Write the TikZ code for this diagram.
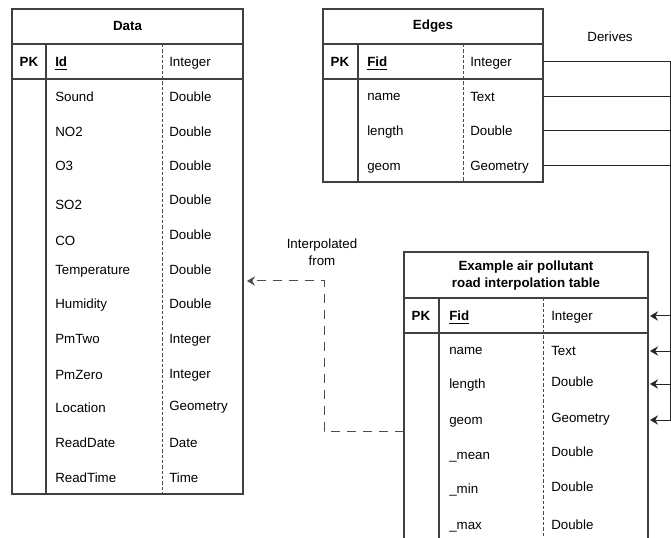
\documentclass[tikz,border=0pt]{standalone}
\usepackage{fontspec}
\setmainfont{Liberation Sans}
\usetikzlibrary{arrows.meta}

\tikzset{
  frame/.style={draw=black!75, line width=0.9pt},
  divider/.style={draw=black!70, line width=0.7pt, dash pattern=on 2.5pt off 1.5pt},
  txt/.style={inner sep=0pt, text height=0.72em, text depth=0pt, font=\fontsize{10}{13}\selectfont},
  fld/.style={txt, anchor=west},
  pk/.style={txt, font=\fontsize{10}{13}\selectfont\bfseries},
  ttl/.style={inner sep=0pt, align=center, font=\fontsize{10}{12.75}\selectfont\bfseries},
  lbl/.style={inner sep=0pt, align=center, font=\fontsize{10}{13}\selectfont},
  derive/.style={draw=black!85, line width=0.75pt, -{Stealth[length=6pt,width=7pt,inset=2pt]}},
  interp/.style={draw=black!70, line width=0.75pt, dash pattern=on 7pt off 5pt, -{Stealth[length=6pt,width=7pt,inset=2pt]}}
}

\begin{document}
\begin{tikzpicture}[x=0.75pt, y=-0.75pt]
	%%%%% START %%%%%
	\useasboundingbox (0,0) rectangle (671,538);
	\clip (0,0) rectangle (671,538);
	
	%% Data
	\draw[frame] (12,9) rectangle (243,494);
	\draw[frame] (12,44) -- (243,44);
	\draw[frame] (12,79) -- (243,79);
	\draw[frame] (46,44) -- (46,494);
	\draw[divider] (162,44) -- (162,494);
	\coordinate (d-east) at (243,0);
	
	\node[ttl] (d-title) at (127.5,26) {Data};
	\node[pk] (d-pk) at (29,62) {PK};
	\node[fld] (d-id) at (55,62) {\textbf{\underline{Id}}};
	\node[fld] (d-id-t) at (169,62) {Integer};
	\node[fld] (d-sound) at (55,97) {Sound};
	\node[fld] (d-sound-t) at (169,97) {Double};
	\node[fld] (d-no2) at (55,132) {NO2};
	\node[fld] (d-no2-t) at (169,132) {Double};
	\node[fld] (d-o3) at (55,166) {O3};
	\node[fld] (d-o3-t) at (169,166) {Double};
	\node[fld] (d-so2) at (55,205) {SO2};
	\node[fld] (d-so2-t) at (169,200) {Double};
	\node[fld] (d-co) at (55,241) {CO};
	\node[fld] (d-co-t) at (169,235) {Double};
	\node[fld] (d-temp) at (55,270) {Temperature};
	\node[fld] (d-temp-t) at (169,270) {Double};
	\node[fld] (d-hum) at (55,304) {Humidity};
	\node[fld] (d-hum-t) at (169,304) {Double};
	\node[fld] (d-pm2) at (55,339) {PmTwo};
	\node[fld] (d-pm2-t) at (169,339) {Integer};
	\node[fld] (d-pm0) at (55,375) {PmZero};
	\node[fld] (d-pm0-t) at (169,374) {Integer};
	\node[fld] (d-loc) at (55,408) {Location};
	\node[fld] (d-loc-t) at (169,406) {Geometry};
	\node[fld] (d-date) at (55,443) {ReadDate};
	\node[fld] (d-date-t) at (169,443) {Date};
	\node[fld] (d-time) at (55,478) {ReadTime};
	\node[fld] (d-time-t) at (169,478) {Time};
	
	%% Edges
	\draw[frame] (323,9) rectangle (543,182);
	\draw[frame] (323,44) -- (543,44);
	\draw[frame] (323,79) -- (543,79);
	\draw[frame] (358,44) -- (358,182);
	\draw[divider] (463,44) -- (463,182);
	\coordinate (e-east) at (543,0);
	
	\node[ttl] (e-title) at (433,26) {Edges};
	\node[pk] (e-pk) at (340,62) {PK};
	\node[fld] (e-fid) at (367,62) {\textbf{\underline{Fid}}};
	\node[fld] (e-fid-t) at (470,62) {Integer};
	\node[fld] (e-name) at (367,96) {name};
	\node[fld] (e-name-t) at (470,97) {Text};
	\node[fld] (e-len) at (367,131) {length};
	\node[fld] (e-len-t) at (470,131) {Double};
	\node[fld] (e-geom) at (367,166) {geom};
	\node[fld] (e-geom-t) at (470,166) {Geometry};
	
	%% Road interpolation table
	\draw[frame] (404,252) rectangle (648,560);
	\draw[frame] (404,298) -- (648,298);
	\draw[frame] (404,333) -- (648,333);
	\draw[frame] (439,298) -- (439,560);
	\draw[divider] (543,298) -- (543,560);
	\coordinate (r-east) at (650,0);
	
	\node[ttl] (r-title) at (526,275.5) {Example air pollutant\\road interpolation table};
	\node[pk] (r-pk) at (421,316) {PK};
	\node[fld] (r-fid) at (449,316) {\textbf{\underline{Fid}}};
	\node[fld] (r-fid-t) at (551,316) {Integer};
	\node[fld] (r-name) at (449,350) {name};
	\node[fld] (r-name-t) at (551,351) {Text};
	\node[fld] (r-len) at (449,384) {length};
	\node[fld] (r-len-t) at (551,382) {Double};
	\node[fld] (r-geom) at (449,420) {geom};
	\node[fld] (r-geom-t) at (551,418) {Geometry};
	\node[fld] (r-mean) at (449,455) {\_mean};
	\node[fld] (r-mean-t) at (551,452) {Double};
	\node[fld] (r-min) at (449,489) {\_min};
	\node[fld] (r-min-t) at (551,487) {Double};
	\node[fld] (r-max) at (449,525) {\_max};
	\node[fld] (r-max-t) at (551,525) {Double};
	
	%% Derives
	\coordinate (bus) at (670,0);
	\draw[derive] (e-east |- e-fid-t) -| (bus |- r-fid-t) -- (r-east |- r-fid-t);
	\draw[derive] (e-east |- e-name-t) -| (bus |- r-name-t) -- (r-east |- r-name-t);
	\draw[derive] (e-east |- e-len-t) -| (bus |- r-len) -- (r-east |- r-len);
	\draw[derive] (e-east |- e-geom-t) -| (bus |- r-geom) -- (r-east |- r-geom);
	\node[lbl] (derives) at (610,37) {Derives};
	
	%% Interpolated from
	\coordinate (ip-start) at (404,431);
	\coordinate (ip-end) at (247,281);
	\draw[interp] (ip-start) -- ++(-80,0) |- (ip-end);
	\node[lbl] (interp-lbl) at (322,252) {Interpolated\\from};
	
	%%%%% END %%%%%
\end{tikzpicture}
\end{document}
